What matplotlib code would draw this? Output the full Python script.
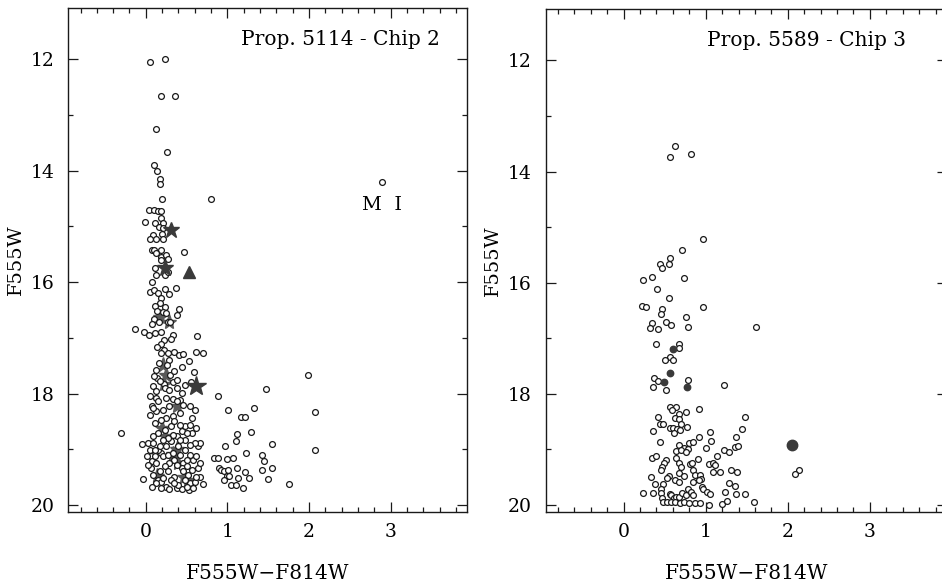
import numpy as np
import matplotlib
matplotlib.use("Agg")
import matplotlib.pyplot as plt
from matplotlib.ticker import MultipleLocator

plt.rcParams['font.family'] = ['DejaVu Serif']

# ---- data (colour F555W-F814W, magnitude F555W) ----

# Prop. 5114 - Chip 2 : open circles
left_open = [
    (0.05, 12.05), (0.24, 12.00), (0.19, 12.66), (0.36, 12.65), (0.13, 13.25),
    (0.26, 13.67), (0.10, 13.89), (0.14, 14.00), (0.17, 14.15), (0.17, 14.24), (0.20, 14.50), (0.80, 14.51),
    (0.04, 14.71), (0.10, 14.70), (0.15, 14.73), (0.18, 14.73), (0.18, 14.84), (0.21, 14.93), (-0.01, 14.92),
    (0.11, 14.94), (0.16, 15.01), (0.21, 15.03), (0.09, 15.16), (0.05, 15.22), (0.12, 15.22), (0.20, 15.13),
    (0.21, 15.22), (0.08, 15.42), (0.10, 15.42), (0.18, 15.42), (0.47, 15.46), (0.13, 15.48), (0.18, 15.54),
    (0.25, 15.51), (0.27, 15.58), (0.19, 15.61), (0.11, 15.75), (0.12, 15.87), (0.24, 15.87), (0.27, 15.81),
    (0.08, 16.00), (0.37, 16.10), (0.05, 16.18), (0.10, 16.14), (0.15, 16.20), (0.23, 16.13), (0.28, 16.21),
    (0.19, 16.29), (0.17, 16.38), (0.11, 16.42), (0.23, 16.44), (0.14, 16.51), (0.21, 16.53), (0.25, 16.56),
    (0.41, 16.49), (0.38, 16.59), (0.10, 16.67), (0.08, 16.75), (0.16, 16.72), (0.27, 16.72), (0.30, 16.71),
    (-0.13, 16.84), (-0.02, 16.89), (0.04, 16.95), (0.11, 16.92), (0.19, 16.89), (0.33, 16.95), (0.31, 17.02),
    (0.63, 16.96), (0.22, 17.04), (0.18, 17.11), (0.14, 17.16), (0.22, 17.22), (0.27, 17.28), (0.34, 17.26),
    (0.41, 17.31), (0.46, 17.29), (0.62, 17.25), (0.70, 17.28), (0.53, 17.41), (0.29, 17.39), (0.19, 17.28),
    (0.16, 17.45), (0.26, 17.48), (0.44, 17.52), (0.30, 17.66), (0.14, 17.72), (0.22, 17.82), (0.33, 17.80),
    (0.13, 17.58), (0.10, 17.69), (0.17, 17.78), (0.35, 17.60), (0.59, 17.61), (0.38, 17.75), (0.55, 17.80),
    (0.09, 17.87), (0.13, 17.96), (0.23, 17.90), (0.29, 17.93), (0.38, 17.90), (0.44, 17.99), (0.48, 17.85),
    (0.05, 18.05), (0.13, 18.08), (0.25, 18.08), (0.33, 18.10), (0.42, 18.11), (0.89, 18.04),
    (0.03, 18.89), (0.05, 19.01), (0.06, 19.12), (0.07, 19.22), (0.06, 19.34), (0.09, 19.46), (0.15, 19.55),
    (0.19, 19.58), (0.25, 19.67), (0.29, 19.72), (0.38, 19.70), (0.44, 19.72), (0.53, 19.73), (0.54, 19.61),
    (0.60, 19.58), (0.66, 19.49), (0.64, 19.34), (0.56, 19.37), (0.58, 19.19), (0.62, 19.12), (0.64, 18.95),
    (0.66, 18.88), (0.60, 18.89), (0.54, 18.92), (0.48, 19.01), (0.42, 19.10), (0.35, 19.19), (0.29, 19.25),
    (0.23, 19.31), (0.17, 19.40), (0.13, 19.25), (0.11, 19.13), (0.19, 19.07), (0.25, 18.95), (0.31, 18.86),
    (0.38, 18.77), (0.44, 18.68), (0.48, 18.59), (0.54, 18.56), (0.62, 18.62), (0.56, 18.44), (0.60, 18.30),
    (0.46, 18.20), (0.38, 18.14), (0.29, 18.23), (0.21, 18.29), (0.13, 18.32), (0.05, 18.38), (0.07, 18.23),
    (0.15, 18.14), (0.25, 18.44), (0.33, 18.41), (0.42, 18.35), (0.31, 18.59), (0.23, 18.65), (0.15, 18.71),
    (0.09, 18.77), (0.40, 18.95), (0.46, 19.25), (0.52, 19.46), (0.35, 19.49), (0.21, 19.52), (0.27, 19.40),
    (0.44, 19.34), (0.48, 19.55),
    (0.09, 18.89), (0.15, 19.01), (0.21, 19.13), (0.27, 19.10), (0.33, 19.07), (0.38, 19.28), (0.50, 19.31),
    (0.54, 19.10), (0.48, 18.83), (0.42, 18.83), (0.33, 18.74), (0.27, 18.80), (0.21, 18.83), (0.17, 18.95),
    (0.11, 19.01), (0.13, 19.61), (0.31, 19.55), (0.40, 19.64), (0.50, 19.67), (0.58, 19.70), (0.62, 19.49),
    (0.66, 19.25), (0.03, 19.28), (0.01, 19.13), (0.19, 19.70), (0.46, 19.40), (0.35, 19.61), (0.50, 19.19),
    (0.56, 18.71), (0.50, 18.71), (0.42, 18.56), (0.35, 18.50), (0.19, 18.47), (0.11, 18.53), (0.09, 18.26),
    (0.54, 18.23),
    (-0.31, 18.71), (-0.05, 18.90), (-0.03, 19.53), (0.08, 19.68), (0.70, 19.62),
    (0.83, 19.16), (0.88, 19.16), (0.97, 18.95), (0.99, 19.18), (1.07, 19.16), (1.01, 18.30), (1.17, 18.42),
    (1.22, 18.42), (1.32, 18.26), (1.12, 18.73), (1.10, 18.86), (1.29, 18.69), (1.55, 18.90), (1.23, 19.07),
    (1.42, 19.10), (1.45, 19.22), (1.42, 19.38), (1.55, 19.33), (1.50, 19.53), (0.90, 19.34), (0.92, 19.37),
    (0.96, 19.39), (1.01, 19.37), (0.99, 19.48), (1.02, 19.48), (1.12, 19.34), (1.22, 19.41), (1.26, 19.52),
    (1.13, 19.52), (0.96, 19.56), (1.04, 19.64), (1.10, 19.65), (1.19, 19.69), (1.76, 19.63),
    (2.07, 18.33), (2.07, 19.01), (1.99, 17.66), (1.47, 17.92), (2.89, 14.20),
]
# overlapping filled symbols in the crowded sequence (grey)
left_grey = [
    (0.17, 16.62), (0.29, 16.72), (0.21, 17.48), (0.25, 17.66), (0.22, 17.82), (0.20, 18.62), (0.24, 18.76),
    (0.38, 18.22), (0.33, 19.08), (0.40, 19.25), (0.47, 19.50), (0.52, 19.55), (0.14, 19.48), (0.38, 19.00),
]
left_stars = [(0.31, 15.07), (0.23, 15.74)]
left_big_star = [(0.62, 17.87)]
left_triangle = [(0.53, 15.82)]

# Prop. 5589 - Chip 3 : open circles
right_open = [
    (0.62, 13.54), (0.56, 13.74), (0.82, 13.68),
    (0.97, 15.21), (0.71, 15.42), (0.57, 15.55), (0.44, 15.67), (0.47, 15.73), (0.55, 15.67), (0.74, 15.92),
    (0.24, 15.96), (0.34, 15.90), (0.41, 16.12), (0.55, 16.27), (0.22, 16.42), (0.27, 16.44), (0.97, 16.43),
    (0.47, 16.48), (0.45, 16.57), (0.76, 16.61), (0.51, 16.70), (0.58, 16.76), (0.34, 16.72), (0.32, 16.81),
    (0.42, 16.84), (0.78, 16.79), (1.61, 16.80), (0.39, 17.10), (0.68, 17.11), (0.67, 17.18), (0.56, 17.34),
    (0.60, 17.39), (0.50, 17.39), (0.37, 17.71), (0.42, 17.77), (0.36, 17.88), (0.52, 17.94), (0.78, 17.76),
    (1.22, 17.84), (0.56, 18.23), (0.64, 18.23), (0.59, 18.30), (0.67, 18.36), (0.63, 18.43), (0.76, 18.33),
    (0.67, 18.46), (0.70, 18.55), (0.92, 18.28), (0.42, 18.42), (1.48, 18.41), (0.44, 18.54), (0.48, 18.55),
    (0.56, 18.61), (0.60, 18.62), (0.65, 18.63), (0.77, 18.60), (0.36, 18.67), (0.61, 18.71), (0.69, 18.65),
    (1.44, 18.63), (1.37, 18.77), (1.05, 18.69), (0.92, 18.77), (1.07, 18.85), (0.44, 18.86), (0.80, 18.88),
    (0.85, 18.86), (0.68, 18.93), (0.73, 18.98), (0.78, 18.99), (1.00, 18.97), (1.36, 18.96), (1.39, 18.94),
    (0.64, 19.03), (0.70, 19.01), (0.76, 19.04), (1.22, 19.01), (1.28, 19.04), (1.14, 19.12), (0.35, 19.16),
    (0.39, 19.12), (0.64, 19.15), (0.51, 19.19), (0.49, 19.24), (0.90, 19.18), (1.04, 19.27), (1.09, 19.24),
    (1.11, 19.29), (0.68, 19.25), (0.70, 19.32), (0.81, 19.26), (0.83, 19.25), (0.47, 19.32), (0.46, 19.37),
    (0.55, 19.48), (0.53, 19.52), (0.68, 19.43), (0.73, 19.48), (0.84, 19.38), (0.87, 19.46), (1.09, 19.40),
    (1.17, 19.41), (1.31, 19.38), (1.38, 19.40), (2.14, 19.37), (2.09, 19.45), (0.33, 19.50), (0.93, 19.47),
    (0.94, 19.53), (0.63, 19.55), (0.67, 19.59), (0.84, 19.59), (0.92, 19.55), (0.38, 19.63), (0.48, 19.62),
    (1.28, 19.60), (1.36, 19.66), (0.96, 19.68), (0.97, 19.72), (1.02, 19.77), (1.24, 19.76), (0.24, 19.79),
    (0.36, 19.79), (0.45, 19.71), (0.46, 19.78), (0.47, 19.87), (0.56, 19.81), (0.58, 19.83), (0.61, 19.87),
    (0.64, 19.85), (0.68, 19.85), (0.71, 19.79), (0.76, 19.82), (0.79, 19.72), (0.82, 19.77), (0.84, 19.83),
    (1.05, 19.81), (1.37, 19.81), (1.48, 19.81), (0.48, 19.94), (0.53, 19.95), (0.58, 19.95), (0.63, 19.95),
    (0.69, 19.97), (0.74, 19.95), (0.80, 19.97), (0.87, 19.97), (0.93, 19.97), (1.04, 20.00), (1.20, 19.98),
    (1.26, 19.93), (1.59, 19.95),
]
right_filled = [(0.60, 17.20), (0.56, 17.62), (0.77, 17.87), (0.49, 17.79)]
right_big_dot = [(2.05, 18.92)]

panel_titles = ["Prop. 5114 - Chip 2", "Prop. 5589 - Chip 3"]
x_label = "F555W\u2212F814W"
y_label = "F555W"


def xy(points):
    a = np.array(points)
    return a[:, 0], a[:, 1]


fig = plt.figure(figsize=(9.42, 5.84), dpi=100)
ax_l = fig.add_axes([0.0725, 0.124, 0.4236, 0.862])
ax_r = fig.add_axes([0.5793, 0.124, 0.4260, 0.860])

ink = '#1a1a1a'
for ax in (ax_l, ax_r):
    ax.set_xlim(-0.95, 3.94)
    ax.set_ylim(20.12, 11.08)
    ax.xaxis.set_major_locator(MultipleLocator(1))
    ax.xaxis.set_minor_locator(MultipleLocator(0.2))
    ax.yaxis.set_major_locator(MultipleLocator(2))
    ax.yaxis.set_minor_locator(MultipleLocator(1))
    ax.tick_params(which='both', direction='in', top=True, right=True, width=0.9, color=ink)
    ax.tick_params(which='major', length=7)
    ax.tick_params(which='minor', length=3.5)
    ax.tick_params(axis='x', which='major', pad=8, labelsize=13.5)
    ax.tick_params(axis='y', which='major', pad=10, labelsize=13.5)
    for s in ax.spines.values():
        s.set_linewidth(1.0)
        s.set_color(ink)
    ax.set_xlabel(x_label, fontsize=14.5, labelpad=17)
    ax.set_ylabel(y_label, fontsize=14, labelpad=4)

open_kw = dict(ls='none', marker='o', ms=4.2, mfc='white', mec=ink, mew=0.9, zorder=3)

# left panel
x, y = xy(left_grey)
ax_l.plot(x, y, ls='none', marker='*', ms=11, color='#5a5a5a', zorder=2)
x, y = xy(left_open)
ax_l.plot(x, y, **open_kw)
x, y = xy(left_stars)
ax_l.plot(x, y, ls='none', marker='*', ms=12, color='#3a3a3a', zorder=4)
x, y = xy(left_big_star)
ax_l.plot(x, y, ls='none', marker='*', ms=15, color='#3a3a3a', zorder=4)
x, y = xy(left_triangle)
ax_l.plot(x, y, ls='none', marker='^', ms=9, color='#3a3a3a', zorder=4)
ax_l.text(0.93, 0.937, panel_titles[0], transform=ax_l.transAxes, ha='right', va='center', fontsize=14.5)
ax_l.text(2.9, 14.62, "M  I", ha='center', va='center', fontsize=14)

# right panel
x, y = xy(right_open)
ax_r.plot(x, y, **open_kw)
x, y = xy(right_filled)
ax_r.plot(x, y, ls='none', marker='o', ms=4.6, color='#3a3a3a', zorder=4)
x, y = xy(right_big_dot)
ax_r.plot(x, y, ls='none', marker='o', ms=7.5, color='#3a3a3a', zorder=4)
ax_r.text(0.898, 0.937, panel_titles[1], transform=ax_r.transAxes, ha='right', va='center', fontsize=14.5)

fig.savefig("out.png", dpi=100)
